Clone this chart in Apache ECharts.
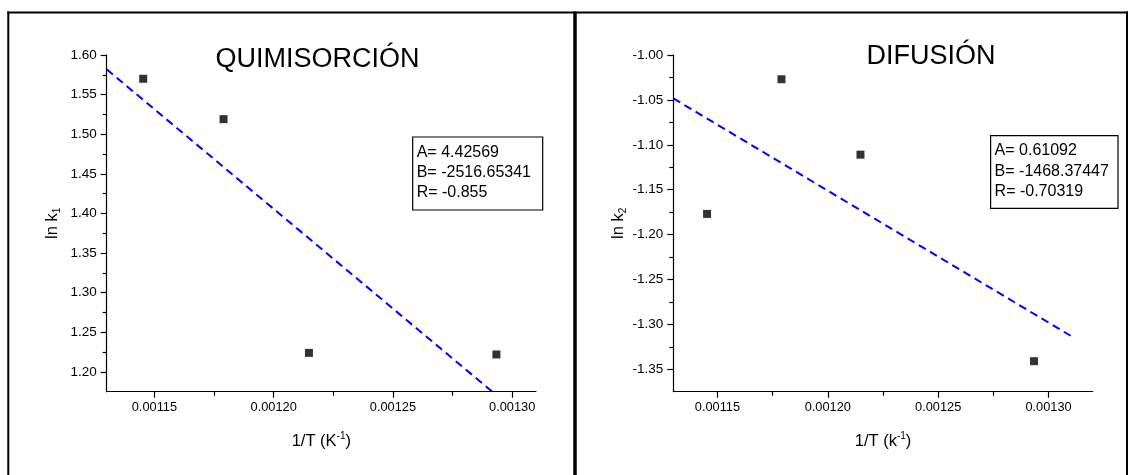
<!DOCTYPE html>
<html>
<head>
<meta charset="utf-8">
<title>QUIMISORCIÓN / DIFUSIÓN</title>
<script src="https://cdn.jsdelivr.net/npm/echarts@6/dist/echarts.min.js"></script>
<style>
html, body { margin: 0; padding: 0; background: #fff; }
#chart { width: 1135px; height: 475px; }
</style>
</head>
<body>
<div id="chart"></div>
<script>
// 1/T (K^-1) of the four runs
const invT = [0.0011453, 0.0011790, 0.0012148, 0.0012934]
const lnK1 = [1.570, 1.519, 1.224, 1.222]
const lnK2 = [-1.177, -1.027, -1.111, -1.341]

// ends of the fitted lines
const fitX1 = [0.00113, 0.00131]
const fitY1 = [1.5819, 1.1289]
const fitX2 = [0.00113, 0.00131]
const fitY2 = [-1.0483, -1.3127]

const xTicks = [0.00115, 0.0012, 0.00125, 0.0013]
const xTickLabels = ['0.00115', '0.00120', '0.00125', '0.00130']
const xMinor = [0.001175, 0.001225, 0.001275]

const y1Ticks = [1.2, 1.25, 1.3, 1.35, 1.4, 1.45, 1.5, 1.55, 1.6]
const y1TickLabels = ['1.20', '1.25', '1.30', '1.35', '1.40', '1.45', '1.50', '1.55', '1.60']
const y1Minor = [1.225, 1.275, 1.325, 1.375, 1.425, 1.475, 1.525, 1.575]

const y2Ticks = [-1.35, -1.3, -1.25, -1.2, -1.15, -1.1, -1.05, -1.0]
const y2TickLabels = ['-1.35', '-1.30', '-1.25', '-1.20', '-1.15', '-1.10', '-1.05', '-1.00']
const y2Minor = [-1.325, -1.275, -1.225, -1.175, -1.125, -1.075, -1.025]

const statsLeft = ['A= 4.42569', 'B= -2516.65341', 'R= -0.855']
const statsRight = ['A= 0.61092', 'B= -1468.37447', 'R= -0.70319']

const FONT = 'Arial, "Liberation Sans", sans-serif'

const labelFor = (ticks, labels) => (v) => {
  const i = ticks.findIndex((t) => Math.abs(t - v) < 1e-9)
  return i < 0 ? '' : labels[i]
}
const zip = (xs, ys) => xs.map((x, i) => [x, ys[i]])

const nameStyle = {
  color: '#000',
  fontFamily: FONT,
  rich: {
    b: { fontSize: 16.5, lineHeight: 20, fontFamily: FONT, color: '#000' },
    sub: { fontSize: 10, lineHeight: 10, verticalAlign: 'bottom', fontFamily: FONT, color: '#000' },
    sup: { fontSize: 10, lineHeight: 10, verticalAlign: 'top', fontFamily: FONT, color: '#000' }
  }
}

const mainAxis = (o) => ({
  type: 'value',
  gridIndex: o.grid,
  min: o.min,
  max: o.max,
  position: o.pos,
  name: o.name,
  nameLocation: 'middle',
  nameGap: o.gap,
  nameTextStyle: nameStyle,
  splitLine: { show: false },
  axisLine: { show: true, onZero: false, lineStyle: { color: '#000', width: 1.2 } },
  axisTick: { show: true, customValues: o.ticks, length: 6, lineStyle: { color: '#000', width: 1.2 } },
  axisLabel: {
    customValues: o.ticks,
    formatter: labelFor(o.ticks, o.labels),
    margin: o.margin,
    fontSize: o.fontSize,
    fontFamily: FONT,
    color: '#000'
  }
})

const minorAxis = (o) => ({
  type: 'value',
  gridIndex: o.grid,
  min: o.min,
  max: o.max,
  position: o.pos,
  splitLine: { show: false },
  axisLine: { show: false, onZero: false },
  axisLabel: { show: false },
  axisTick: { show: true, customValues: o.ticks, length: 4, lineStyle: { color: '#000', width: 1.2 } }
})

const statBox = (x, y, w, h, lines) => ({
  type: 'group',
  children: [
    { type: 'rect', shape: { x, y, width: w, height: h }, style: { fill: '#fff', stroke: '#000', lineWidth: 1.2 } },
    {
      type: 'text',
      x: x + 4,
      y: y + 5,
      style: { text: lines.join('\n'), fontSize: 16, lineHeight: 20.3, fontFamily: FONT, fill: '#000', textVerticalAlign: 'top' }
    }
  ]
})

const chart = echarts.init(document.getElementById('chart'))
const option = {
  animation: false,
  textStyle: { fontFamily: FONT },
  grid: [
    { left: 106.7, top: 55, width: 429.3, height: 336.7, containLabel: false, outerBoundsMode: 'none' },
    { left: 673.3, top: 55, width: 419.4, height: 336.7, containLabel: false, outerBoundsMode: 'none' }
  ],
  xAxis: [
    mainAxis({ grid: 0, min: 0.00113, max: 0.00131, pos: 'bottom', name: '{b|1/T (K}{sup|-1}{b|)}', gap: 40, ticks: xTicks, labels: xTickLabels, margin: 9, fontSize: 12.8 }),
    minorAxis({ grid: 0, min: 0.00113, max: 0.00131, pos: 'bottom', ticks: xMinor }),
    mainAxis({ grid: 1, min: 0.00113, max: 0.00132, pos: 'bottom', name: '{b|1/T (k}{sup|-1}{b|)}', gap: 40, ticks: xTicks, labels: xTickLabels, margin: 9, fontSize: 12.8 }),
    minorAxis({ grid: 1, min: 0.00113, max: 0.00132, pos: 'bottom', ticks: xMinor })
  ],
  yAxis: [
    mainAxis({ grid: 0, min: 1.175, max: 1.6, pos: 'left', name: '{b|ln k}{sub|1}', gap: 44, ticks: y1Ticks, labels: y1TickLabels, margin: 10, fontSize: 13.5 }),
    minorAxis({ grid: 0, min: 1.175, max: 1.6, pos: 'left', ticks: y1Minor }),
    mainAxis({ grid: 1, min: -1.375, max: -1.0, pos: 'left', name: '{b|ln k}{sub|2}', gap: 44, ticks: y2Ticks, labels: y2TickLabels, margin: 10, fontSize: 13.5 }),
    minorAxis({ grid: 1, min: -1.375, max: -1.0, pos: 'left', ticks: y2Minor })
  ],
  series: [
    {
      type: 'line', xAxisIndex: 0, yAxisIndex: 0, data: zip(fitX1, fitY1), symbol: 'none', clip: true, silent: true,
      lineStyle: { type: [8, 5], color: '#0000ff', width: 2 }
    },
    {
      type: 'scatter', xAxisIndex: 0, yAxisIndex: 0, data: zip(invT, lnK1), symbol: 'rect', symbolSize: 8,
      itemStyle: { color: '#000' }
    },
    {
      type: 'line', xAxisIndex: 2, yAxisIndex: 2, data: zip(fitX2, fitY2), symbol: 'none', clip: true, silent: true,
      lineStyle: { type: [8, 5], color: '#0000ff', width: 2 }
    },
    {
      type: 'scatter', xAxisIndex: 2, yAxisIndex: 2, data: zip(invT, lnK2), symbol: 'rect', symbolSize: 8,
      itemStyle: { color: '#000' }
    }
  ],
  graphic: [
    // page frame
    { type: 'line', shape: { x1: 7.3, y1: 12.5, x2: 1128, y2: 12.5 }, style: { stroke: '#000', lineWidth: 2 } },
    { type: 'line', shape: { x1: 8.3, y1: 11.5, x2: 8.3, y2: 475 }, style: { stroke: '#000', lineWidth: 2 } },
    { type: 'line', shape: { x1: 575, y1: 11.5, x2: 575, y2: 475 }, style: { stroke: '#000', lineWidth: 3.5 } },
    { type: 'line', shape: { x1: 1127, y1: 11.5, x2: 1127, y2: 475 }, style: { stroke: '#000', lineWidth: 2 } },
    // titles
    { type: 'text', x: 317.5, y: 59.7, style: { text: 'QUIMISORCIÓN', fontSize: 27, fontFamily: FONT, fill: '#000', textAlign: 'center', textVerticalAlign: 'middle' } },
    { type: 'text', x: 931, y: 56.7, style: { text: 'DIFUSIÓN', fontSize: 27, fontFamily: FONT, fill: '#000', textAlign: 'center', textVerticalAlign: 'middle' } },
    // fit results
    statBox(412.7, 137, 130, 73, statsLeft),
    statBox(990.6, 135.7, 127.4, 72.6, statsRight)
  ]
}
chart.setOption(option)
</script>
</body>
</html>
